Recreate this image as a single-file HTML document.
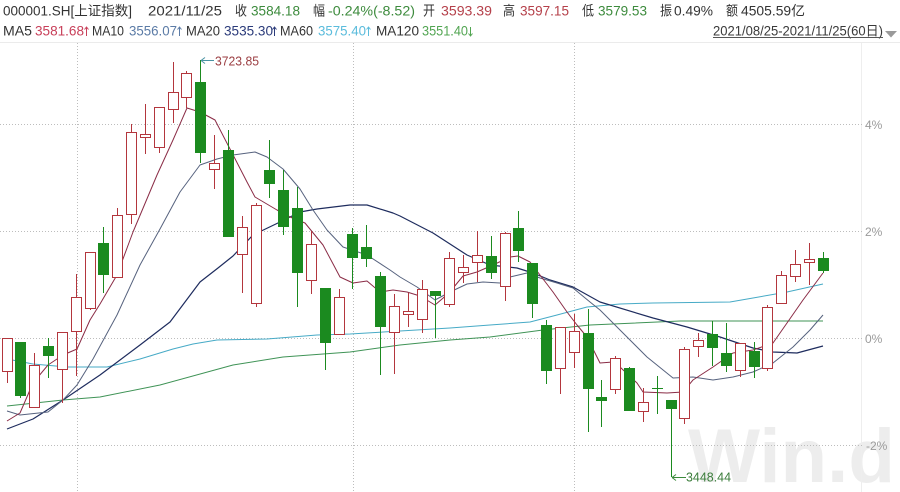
<!DOCTYPE html>
<html><head><meta charset="utf-8"><style>
html,body{margin:0;padding:0;background:#fff;}
svg{display:block;}
text{font-family:"Liberation Sans","Noto Sans CJK SC",sans-serif;}
</style></head><body>
<svg width="900" height="492" viewBox="0 0 900 492" xmlns="http://www.w3.org/2000/svg">
<rect x="0" y="0" width="900" height="492" fill="#fff"/>
<!-- watermark -->
<text x="688" y="482" font-size="76" font-weight="bold" fill="#ededed" textLength="207" lengthAdjust="spacingAndGlyphs">Win.d</text>
<!-- frame lines -->
<line x1="0" y1="42.5" x2="900" y2="42.5" stroke="#ebebeb" stroke-width="1"/>
<line x1="861.5" y1="43" x2="861.5" y2="492" stroke="#eeeeee" stroke-width="1"/>
<!-- grid -->
<g stroke="#bdbdbd" stroke-width="1" stroke-dasharray="1,2" fill="none">
<line x1="0" y1="124.5" x2="862" y2="124.5"/>
<line x1="0" y1="231.5" x2="862" y2="231.5"/>
<line x1="0" y1="338.5" x2="862" y2="338.5"/>
<line x1="0" y1="445.5" x2="862" y2="445.5"/>
<line x1="77.5" y1="43" x2="77.5" y2="492"/>
<line x1="353.5" y1="43" x2="353.5" y2="492"/>
<line x1="574.5" y1="43" x2="574.5" y2="492"/>
</g>
<!-- axis labels -->
<g font-size="12" fill="#9a9a9a">
<text x="865" y="129">4%</text>
<text x="865" y="236">2%</text>
<text x="865" y="343">0%</text>
<text x="866" y="450">-2%</text>
</g>

<!-- MA lines -->
<g fill="none" stroke-width="1" stroke-linejoin="round">
<polyline stroke="#3f9356" points="7,406 63,400 100,397 160,385 233,365 283,357 350,352 400,345 450,340 490,337 543,330 590,325 680,321 823,321"/>
<polyline stroke="#46aac6" points="7,359 33,364 67,367 107,367 140,359 173,349 193,344 217,340 267,339 317,335 350,334 400,331 450,328 490,325 530,322 557,315 587,307 620,304 653,303 730,302 753,298 787,292 823,284"/>
<polyline stroke="#1e2c5e" stroke-width="1.2" points="7,429 33,419 63,400 100,375 140,345 170,322 200,282 218,268 233,256 253,235 280,222 300,212 317,209 350,205 367,205 393,213 400,216 433,233 467,255 490,265 517,268 533,273 550,280 573,287 600,302 653,318 687,327 720,337 753,348 773,352 797,353 823,346"/>
<polyline stroke="#56627e" points="7,411 20,415 48,412 63,400 77,385 93,359 117,315 140,265 160,229 180,192 200,165 217,159 233,155 255,152 267,157 283,169 300,189 313,210 327,230 343,247 367,255 390,270 400,277 417,287 435,300 450,292 467,284 483,282 500,283 510,277 527,273 540,278 557,283 573,288 590,302 600,310 620,330 647,357 673,378 693,377 713,380 733,377 753,372 773,363 793,347 810,330 823,315"/>
<polyline stroke="#8a2c46" points="7,421 20,413 33,383 48,365 63,355 77,349 90,320 100,304 117,275 133,232 157,175 173,140 187,108 200,112 215,120 230,149 247,182 255,197 277,210 290,217 305,223 323,245 340,277 353,283 367,281 380,292 393,290 407,292 420,296 435,305 449,293 463,276 477,272 493,265 510,257 518,256 530,262 540,275 553,292 567,312 577,325 587,337 600,363 613,362 620,367 637,383 643,392 667,393 683,392 693,380 713,367 733,353 753,350 773,343 787,323 803,300 823,273"/>
</g>

<!-- red (hollow) candles -->
<g stroke="#b3363d" stroke-width="1">
<line x1="7.5" y1="338" x2="7.5" y2="383"/><rect x="2.5" y="338.5" width="10" height="33" fill="#fff"/>
<line x1="34.5" y1="353" x2="34.5" y2="408"/><rect x="29.5" y="365.5" width="10" height="42" fill="#fff"/>
<line x1="62.5" y1="332" x2="62.5" y2="403"/><rect x="57.5" y="332.5" width="10" height="37" fill="#fff"/>
<line x1="76.5" y1="274" x2="76.5" y2="376"/><rect x="71.5" y="297.5" width="10" height="34" fill="#fff"/>
<line x1="90.5" y1="252" x2="90.5" y2="310"/><rect x="85.5" y="252.5" width="10" height="56" fill="#fff"/>
<line x1="117.5" y1="208" x2="117.5" y2="277"/><rect x="112.5" y="215.5" width="10" height="62" fill="#fff"/>
<line x1="131.5" y1="124" x2="131.5" y2="224"/><rect x="126.5" y="132.5" width="10" height="82" fill="#fff"/>
<line x1="145.5" y1="104" x2="145.5" y2="154"/><rect x="140.5" y="134.5" width="10" height="3" fill="#fff"/>
<line x1="159.5" y1="107" x2="159.5" y2="153"/><rect x="154.5" y="107.5" width="10" height="40" fill="#fff"/>
<line x1="173.5" y1="62" x2="173.5" y2="123"/><rect x="168.5" y="92.5" width="10" height="17" fill="#fff"/>
<line x1="186.5" y1="71" x2="186.5" y2="108"/><rect x="181.5" y="73.5" width="10" height="24" fill="#fff"/>
<line x1="214.5" y1="135" x2="214.5" y2="189"/><rect x="209.5" y="163.5" width="10" height="6" fill="#fff"/>
<line x1="242.5" y1="216" x2="242.5" y2="293"/><rect x="237.5" y="227.5" width="10" height="27" fill="#fff"/>
<line x1="256.5" y1="203" x2="256.5" y2="307"/><rect x="251.5" y="205.5" width="10" height="98" fill="#fff"/>
<line x1="311.5" y1="231" x2="311.5" y2="294"/><rect x="306.5" y="244.5" width="10" height="36" fill="#fff"/>
<line x1="339.5" y1="289" x2="339.5" y2="334"/><rect x="334.5" y="297.5" width="10" height="37" fill="#fff"/>
<line x1="394.5" y1="294" x2="394.5" y2="374"/><rect x="389.5" y="306.5" width="10" height="26" fill="#fff"/>
<line x1="408.5" y1="293" x2="408.5" y2="327"/><rect x="403.5" y="311.5" width="10" height="3" fill="#fff"/>
<line x1="422.5" y1="280" x2="422.5" y2="333"/><rect x="417.5" y="289.5" width="10" height="30" fill="#fff"/>
<line x1="449.5" y1="252" x2="449.5" y2="307"/><rect x="444.5" y="258.5" width="10" height="46" fill="#fff"/>
<line x1="463.5" y1="255" x2="463.5" y2="283"/><rect x="458.5" y="267.5" width="10" height="5" fill="#fff"/>
<line x1="477.5" y1="231" x2="477.5" y2="282"/><rect x="472.5" y="255.5" width="10" height="7" fill="#fff"/>
<line x1="505.5" y1="232" x2="505.5" y2="301"/><rect x="500.5" y="233.5" width="10" height="53" fill="#fff"/>
<line x1="560.5" y1="327" x2="560.5" y2="394"/><rect x="555.5" y="327.5" width="10" height="41" fill="#fff"/>
<line x1="574.5" y1="314" x2="574.5" y2="368"/><rect x="569.5" y="331.5" width="10" height="21" fill="#fff"/>
<line x1="615.5" y1="356" x2="615.5" y2="394"/><rect x="610.5" y="358.5" width="10" height="31" fill="#fff"/>
<line x1="643.5" y1="388" x2="643.5" y2="422"/><rect x="638.5" y="402.5" width="10" height="9" fill="#fff"/>
<line x1="684.5" y1="347" x2="684.5" y2="424"/><rect x="679.5" y="349.5" width="10" height="69" fill="#fff"/>
<line x1="698.5" y1="333" x2="698.5" y2="357"/><rect x="693.5" y="340.5" width="10" height="6" fill="#fff"/>
<line x1="740.5" y1="343" x2="740.5" y2="377"/><rect x="735.5" y="343.5" width="10" height="27" fill="#fff"/>
<line x1="767.5" y1="305" x2="767.5" y2="371"/><rect x="762.5" y="307.5" width="10" height="61" fill="#fff"/>
<line x1="781.5" y1="271" x2="781.5" y2="303"/><rect x="776.5" y="275.5" width="10" height="28" fill="#fff"/>
<line x1="795.5" y1="250" x2="795.5" y2="282"/><rect x="790.5" y="264.5" width="10" height="12" fill="#fff"/>
<line x1="809.5" y1="243" x2="809.5" y2="285"/><rect x="804.5" y="259.5" width="10" height="3" fill="#fff"/>
</g>

<!-- green (filled) candles -->
<g stroke="#1b8a1f" stroke-width="1" fill="#1b8a1f">
<line x1="20.5" y1="342" x2="20.5" y2="398"/><rect x="15" y="342" width="11" height="54" stroke="none"/>
<line x1="48.5" y1="338" x2="48.5" y2="378"/><rect x="43" y="346" width="11" height="10" stroke="none"/>
<line x1="103.5" y1="227" x2="103.5" y2="293"/><rect x="98" y="243" width="11" height="32" stroke="none"/>
<line x1="200.5" y1="60" x2="200.5" y2="163"/><rect x="195" y="82" width="11" height="71" stroke="none"/>
<line x1="228.5" y1="130" x2="228.5" y2="237"/><rect x="223" y="150" width="11" height="87" stroke="none"/>
<line x1="269.5" y1="140" x2="269.5" y2="198"/><rect x="264" y="170" width="11" height="14" stroke="none"/>
<line x1="283.5" y1="170" x2="283.5" y2="235"/><rect x="278" y="190" width="11" height="37" stroke="none"/>
<line x1="297.5" y1="187" x2="297.5" y2="307"/><rect x="292" y="208" width="11" height="65" stroke="none"/>
<line x1="325.5" y1="288" x2="325.5" y2="370"/><rect x="320" y="288" width="11" height="55" stroke="none"/>
<line x1="352.5" y1="228" x2="352.5" y2="289"/><rect x="347" y="234" width="11" height="24" stroke="none"/>
<line x1="366.5" y1="225" x2="366.5" y2="267"/><rect x="361" y="247" width="11" height="12" stroke="none"/>
<line x1="380.5" y1="272" x2="380.5" y2="375"/><rect x="375" y="276" width="11" height="51" stroke="none"/>
<line x1="435.5" y1="291" x2="435.5" y2="338"/><rect x="430" y="291" width="11" height="5" stroke="none"/>
<line x1="491.5" y1="236" x2="491.5" y2="279"/><rect x="486" y="256" width="11" height="17" stroke="none"/>
<line x1="518.5" y1="211" x2="518.5" y2="262"/><rect x="513" y="228" width="11" height="23" stroke="none"/>
<line x1="532.5" y1="263" x2="532.5" y2="318"/><rect x="527" y="263" width="11" height="41" stroke="none"/>
<line x1="546.5" y1="320" x2="546.5" y2="384"/><rect x="541" y="325" width="11" height="46" stroke="none"/>
<line x1="588.5" y1="309" x2="588.5" y2="432"/><rect x="583" y="333" width="11" height="56" stroke="none"/>
<line x1="601.5" y1="380" x2="601.5" y2="427"/><rect x="596" y="397" width="11" height="4" stroke="none"/>
<line x1="629.5" y1="367" x2="629.5" y2="411"/><rect x="624" y="368" width="11" height="43" stroke="none"/>
<line x1="657.5" y1="376" x2="657.5" y2="414"/><rect x="652" y="388" width="11" height="1" stroke="none"/>
<line x1="671.5" y1="400" x2="671.5" y2="477"/><rect x="666" y="400" width="11" height="9" stroke="none"/>
<line x1="712.5" y1="321" x2="712.5" y2="366"/><rect x="707" y="334" width="11" height="14" stroke="none"/>
<line x1="726.5" y1="323" x2="726.5" y2="372"/><rect x="721" y="353" width="11" height="13" stroke="none"/>
<line x1="754.5" y1="342" x2="754.5" y2="378"/><rect x="749" y="351" width="11" height="16" stroke="none"/>
<line x1="823.5" y1="252" x2="823.5" y2="273"/><rect x="818" y="258" width="11" height="13" stroke="none"/>
</g>

<!-- high / low annotations -->
<g fill="none" stroke="#4a93a3" stroke-width="1">
<path d="M201,60.5 H214 M201,60.5 l4,-3 M201,60.5 l4,3"/>
</g>
<text x="215" y="65.5" font-size="12.5" fill="#9b3e42" textLength="44" lengthAdjust="spacingAndGlyphs">3723.85</text>
<g fill="none" stroke="#3b8a3b" stroke-width="1">
<path d="M672,477.5 H686 M672,477.5 l4,-3 M672,477.5 l4,3"/>
</g>
<text x="686" y="481.5" font-size="12.5" fill="#3b7d3b" textLength="45" lengthAdjust="spacingAndGlyphs">3448.44</text>

<!-- header line 1 -->
<g font-size="13.5" fill="#333">
<text x="3" y="15.5" textLength="129" lengthAdjust="spacingAndGlyphs">000001.SH[上证指数]</text>
<text x="148" y="15.5" textLength="74" lengthAdjust="spacingAndGlyphs">2021/11/25</text>
<text x="235" y="15.5" textLength="12" lengthAdjust="spacingAndGlyphs">收</text>
<text x="251" y="15.5" textLength="49" lengthAdjust="spacingAndGlyphs" fill="#3d8b3d">3584.18</text>
<text x="313" y="15.5" textLength="12" lengthAdjust="spacingAndGlyphs">幅</text>
<text x="328" y="15.5" textLength="87" lengthAdjust="spacingAndGlyphs" fill="#3d8b3d">-0.24%(-8.52)</text>
<text x="423" y="15.5" textLength="12" lengthAdjust="spacingAndGlyphs">开</text>
<text x="441" y="15.5" textLength="51" lengthAdjust="spacingAndGlyphs" fill="#b5404a">3593.39</text>
<text x="503" y="15.5" textLength="12" lengthAdjust="spacingAndGlyphs">高</text>
<text x="520" y="15.5" textLength="49" lengthAdjust="spacingAndGlyphs" fill="#b5404a">3597.15</text>
<text x="582" y="15.5" textLength="12" lengthAdjust="spacingAndGlyphs">低</text>
<text x="598" y="15.5" textLength="49" lengthAdjust="spacingAndGlyphs" fill="#3d8b3d">3579.53</text>
<text x="660" y="15.5" textLength="12" lengthAdjust="spacingAndGlyphs">振</text>
<text x="674" y="15.5" textLength="39" lengthAdjust="spacingAndGlyphs">0.49%</text>
<text x="726" y="15.5" textLength="12" lengthAdjust="spacingAndGlyphs">额</text>
<text x="741" y="15.5" textLength="64" lengthAdjust="spacingAndGlyphs">4505.59亿</text>
</g>
<!-- header line 2 -->
<g font-size="13.5" fill="#333">
<text x="3" y="35.5" textLength="29" lengthAdjust="spacingAndGlyphs">MA5</text>
<text x="35" y="35.5" textLength="49" lengthAdjust="spacingAndGlyphs" fill="#c8405a">3581.68</text>
<text x="92" y="35.5" textLength="32" lengthAdjust="spacingAndGlyphs">MA10</text>
<text x="129" y="35.5" textLength="48" lengthAdjust="spacingAndGlyphs" fill="#5b7ba6">3556.07</text>
<text x="186" y="35.5" textLength="34" lengthAdjust="spacingAndGlyphs">MA20</text>
<text x="224" y="35.5" textLength="49" lengthAdjust="spacingAndGlyphs" fill="#2b3b7a">3535.30</text>
<text x="280" y="35.5" textLength="33" lengthAdjust="spacingAndGlyphs">MA60</text>
<text x="318" y="35.5" textLength="48" lengthAdjust="spacingAndGlyphs" fill="#5bbcdc">3575.40</text>
<text x="376" y="35.5" textLength="43" lengthAdjust="spacingAndGlyphs">MA120</text>
<text x="422" y="35.5" textLength="46" lengthAdjust="spacingAndGlyphs" fill="#52a552">3551.40</text>
<text x="713" y="35.5" textLength="170" lengthAdjust="spacingAndGlyphs" fill="#3a3a3a">2021/08/25-2021/11/25(60日)</text>
</g>
<line x1="713" y1="37.5" x2="883" y2="37.5" stroke="#555" stroke-width="1"/>
<polygon points="885,31 897,31 891,37.5" fill="#9a9a9a"/>
<!-- arrows -->
<g fill="none" stroke-width="1">
<path stroke="#c8405a" d="M86.5,36 V27 M84.5,29.5 L86.5,27 L88.5,29.5"/>
<path stroke="#5b7ba6" d="M179.5,36 V27 M177.5,29.5 L179.5,27 L181.5,29.5"/>
<path stroke="#2b3b7a" d="M274.5,36 V27 M272.5,29.5 L274.5,27 L276.5,29.5"/>
<path stroke="#5bbcdc" d="M368.5,36 V27 M366.5,29.5 L368.5,27 L370.5,29.5"/>
<path stroke="#52a552" d="M470.5,27 V36 M468.5,33.5 L470.5,36 L472.5,33.5"/>
</g>
</svg>
</body></html>
